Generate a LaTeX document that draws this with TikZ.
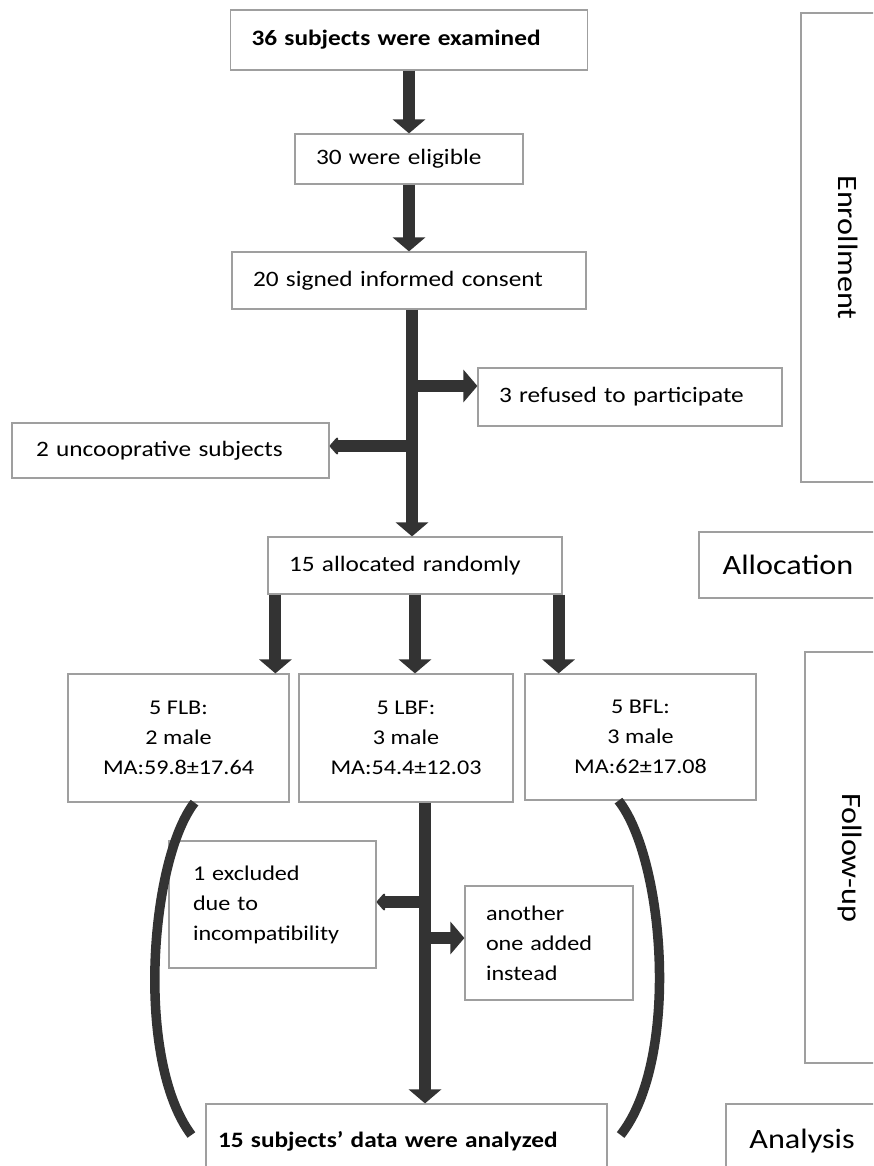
\documentclass[tikz,border=0pt]{standalone}
\usepackage{fontspec}
\setmainfont{Carlito}[FakeStretch=1.15]
\usetikzlibrary{arrows.meta}

\begin{document}
\begin{tikzpicture}[x=1pt, y=-1pt,
	box/.style={draw=gray!75, line width=1.2pt, rectangle, inner sep=0pt, font=\fontsize{22}{30}\selectfont},
	lbox/.style={box, align=left, inner xsep=21pt},
	cbox/.style={box, align=center, font=\fontsize{21}{30}\selectfont},
	stage/.style={draw=gray!75, line width=1.2pt, rectangle, inner sep=0pt, font=\fontsize{28}{32}\selectfont},
	bigarrow/.style={line width=12pt, draw=black!80, -{Triangle[width=32pt, length=14pt]}},
	smallarrow/.style={line width=12pt, draw=black!80, -{Triangle[width=20pt, length=9pt, round]}},
	curve/.style={line width=9.5pt, draw=black!80}]
	\path[use as bounding box] (0,0) rectangle (873,1166);
	\clip (0,0) rectangle (873,1166);

	% flow boxes
	\node[lbox, text width=315pt, minimum height=60pt, font=\fontsize{22}{30}\selectfont\bfseries] (exam) at (409,40) {36 subjects were examined};
	\node[lbox, text width=186pt, minimum height=50pt] (elig) at (409,159) {30 were eligible};
	\node[lbox, text width=312pt, minimum height=57pt] (cons) at (409,280.5) {20 signed informed consent};
	\node[lbox, text width=262pt, minimum height=58pt] (refu) at (630,397) {3 refused to participate};
	\node[lbox, inner xsep=24pt, text width=269pt, minimum height=55pt] (unco) at (170.5,450.5) {2 uncooprative subjects};
	\node[lbox, text width=252pt, minimum height=57pt] (allo) at (415,565.5) {15 allocated randomly};

	\node[cbox, minimum width=221pt, minimum height=128pt] (flb) at (178.5,738) {5 FLB:\\2 male\\MA:59.8±17.64};
	\node[cbox, minimum width=214pt, minimum height=128pt] (lbf) at (406,738) {5 LBF:\\3 male\\MA:54.4±12.03};
	\node[cbox, minimum width=231pt, minimum height=126pt] (bfl) at (640.5,737) {5 BFL:\\3 male\\MA:62±17.08};

	\node[lbox, inner xsep=24pt, text width=159pt, minimum height=127pt, font=\fontsize{21}{30}\selectfont] (excl) at (272.5,904.5) {1 excluded\\due to\\incompatibility};
	\node[lbox, text width=126pt, minimum height=114pt, font=\fontsize{21}{30}\selectfont] (addd) at (549,943) {another\\one added\\instead};
	\node[lbox, inner xsep=12pt, text width=377pt, minimum height=74pt, font=\fontsize{22}{30}\selectfont\bfseries] (anal) at (406.5,1141) {15 subjects' data were analyzed};

	% stage labels on the right
	\node[stage, minimum width=94pt, minimum height=469pt] (enro) at (848,247.5) {\rotatebox{-90}{Enrollment}};
	\node[stage, minimum width=178pt, minimum height=66pt] (allc) at (788,565) {Allocation};
	\node[stage, minimum width=90pt, minimum height=411pt] (foll) at (850,857.5) {\rotatebox{-90}{Follow-up}};
	\node[stage, minimum width=152pt, minimum height=74pt] (anly) at (802,1141) {Analysis};

	% arrows of the enrollment part
	\draw[bigarrow] (exam) -- (elig);
	\draw[bigarrow] (elig) -- (cons);
	\draw[bigarrow] ([xshift=3pt]cons.south) -- ([xshift=3pt]cons.south |- allo.north);
	\coordinate (jref) at (412,386);
	\coordinate (junc) at (412,446);
	\draw[bigarrow] (jref) -- (jref -| refu.west);
	\draw[smallarrow] (junc) -- (junc -| unco.east);

	% arrows to the three groups
	\draw[bigarrow] ([xshift=8pt]allo.south west) -- ([xshift=8pt]allo.south west |- flb.north);
	\draw[bigarrow] (allo.south) -- (allo.south |- lbf.north);
	\draw[bigarrow] ([xshift=-4pt]allo.south east) -- ([xshift=-4pt]allo.south east |- bfl.north);

	% follow-up arrows
	\draw[bigarrow] ([xshift=19pt]lbf.south) -- ([xshift=19pt]lbf.south |- anal.north);
	\coordinate (jexc) at (425,902);
	\coordinate (jadd) at (425,938);
	\draw[smallarrow] (jexc) -- (jexc -| excl.east);
	\draw[bigarrow] (jadd) -- (jadd -| addd.west);

	% curved links into the analysis box
	\draw[curve] ([xshift=16pt]flb.south) .. controls (150,860) and (135,1060) .. ([xshift=-14pt, yshift=6pt]anal.west);
	\draw[curve] ([xshift=-22pt]bfl.south) .. controls (665,860) and (680,1060) .. ([xshift=13pt, yshift=6pt]anal.east);
\end{tikzpicture}
\end{document}
